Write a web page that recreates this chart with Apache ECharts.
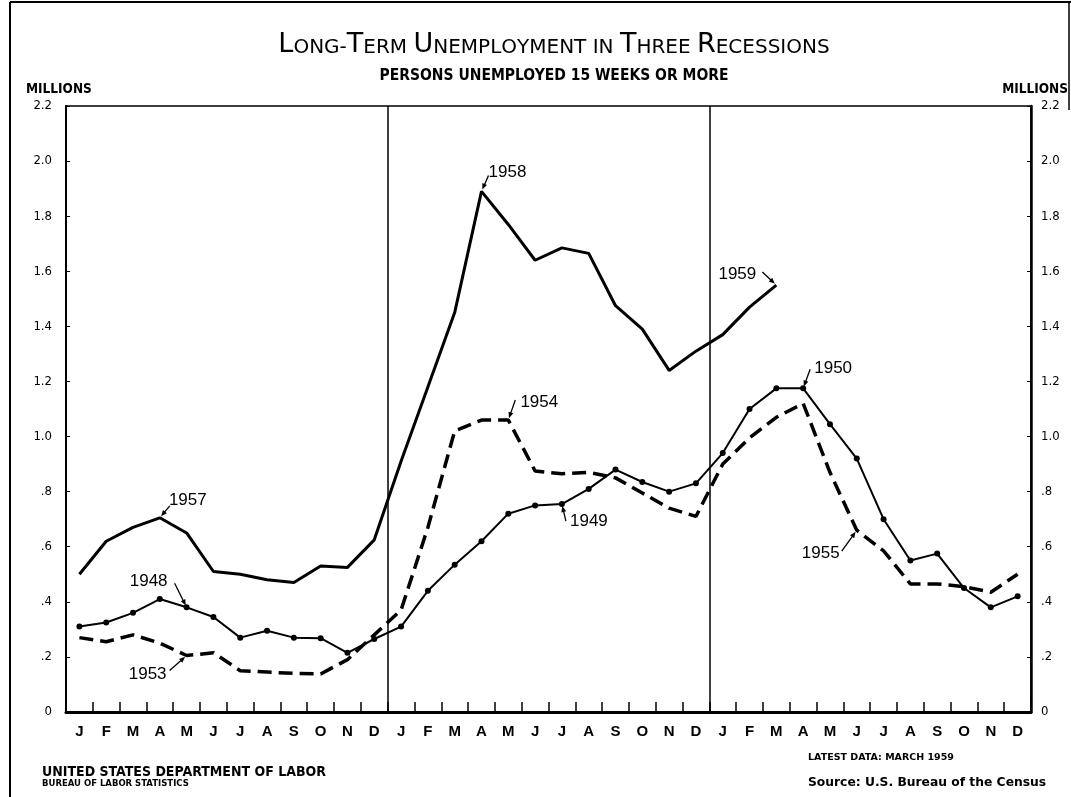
<!DOCTYPE html>
<html>
<head>
<meta charset="utf-8">
<script src="https://cdn.jsdelivr.net/npm/echarts@6/dist/echarts.min.js"></script>
<style>
  html, body { margin: 0; padding: 0; background: #fff; }
  #chart { width: 1071px; height: 797px; }
</style>
</head>
<body>
<div id="chart"></div>
<script>
  // three years shown side by side, one letter per month
  const monthLetters = ['J', 'F', 'M', 'A', 'M', 'J', 'J', 'A', 'S', 'O', 'N', 'D']
  const yearSlots = ['first', 'second', 'third']

  // persons unemployed 15 weeks or more, millions
  const recession1957 = [0.50, 0.62, 0.67, 0.705, 0.65, 0.51, 0.50, 0.48, 0.47, 0.53, 0.525, 0.625,
    0.91, 1.18, 1.45, 1.89, 1.77, 1.64, 1.685, 1.665, 1.475, 1.39, 1.24, 1.31,
    1.37, 1.47, 1.55]
  const recession1948 = [0.31, 0.325, 0.36, 0.41, 0.38, 0.345, 0.27, 0.295, 0.27, 0.268, 0.215, 0.265,
    0.31, 0.44, 0.535, 0.62, 0.72, 0.75, 0.755, 0.81, 0.88, 0.835, 0.80, 0.83,
    0.94, 1.10, 1.175, 1.175, 1.045, 0.92, 0.70, 0.55, 0.575, 0.45, 0.38, 0.42]
  const recession1953 = [0.27, 0.255, 0.28, 0.25, 0.205, 0.215, 0.15, 0.145, 0.14, 0.138, 0.19, 0.28,
    0.37, 0.67, 1.02, 1.06, 1.06, 0.875, 0.865, 0.87, 0.85, 0.795, 0.74, 0.71,
    0.90, 0.995, 1.07, 1.12, 0.87, 0.66, 0.585, 0.465, 0.465, 0.455, 0.435, 0.50]

  // year labels: which series, which month index
  const yearNotes = [
    { text: '1957', data: recession1957, idx: 3 },
    { text: '1948', data: recession1948, idx: 4 },
    { text: '1953', data: recession1953, idx: 4 },
    { text: '1958', data: recession1957, idx: 15 },
    { text: '1954', data: recession1953, idx: 16 },
    { text: '1949', data: recession1948, idx: 18 },
    { text: '1959', data: recession1957, idx: 26 },
    { text: '1950', data: recession1948, idx: 27 },
    { text: '1955', data: recession1953, idx: 29 }
  ]
  // placement of each label: text centre and arrow start, relative to the point
  const notePlacement = {
    '1957': [28, -17, 10, -12],
    '1948': [-38, -26, -12, -24],
    '1953': [-39, 19, -17, 15],
    '1958': [26, -19, 7, -16],
    '1954': [31, -18, 7, -20],
    '1949': [27, 17, 4, 17],
    '1959': [-39, -11, -14, -13],
    '1950': [30, -20, 7, -19],
    '1955': [-36, 23, -15, 21]
  }

  const categories = []
  yearSlots.forEach(y => monthLetters.forEach((m, i) => categories.push(m + '|' + y + i)))

  const NARROW = '"DejaVu Sans Condensed", "Liberation Sans Narrow", Arial, sans-serif'
  const WIDE = '"DejaVu Sans", Arial, sans-serif'
  const fmtMillions = v => {
    const r = Math.round(v * 10) / 10
    if (r === 0) return '0'
    if (r < 1) return '.' + Math.round(r * 10)
    return r.toFixed(1)
  }

  const chart = echarts.init(document.getElementById('chart'))

  const yAxisBase = {
    type: 'value',
    min: 0,
    max: 2.2,
    interval: 0.2,
    splitLine: { show: false },
    axisLine: { show: true, lineStyle: { color: '#000', width: 2 } },
    axisTick: { show: true, inside: true, length: 4, lineStyle: { color: '#000', width: 1 } },
    axisLabel: {
      formatter: fmtMillions,
      color: '#000',
      fontFamily: NARROW,
      fontSize: 13
    }
  }

  // small caps title: capitals big, lower case as small capitals
  const titleText = 'Long-Term Unemployment in Three Recessions'
  const titleRich = titleText.split('').map(c => {
    if (c === ' ') return '{s| }'
    return (c !== c.toLowerCase()) ? '{b|' + c + '}' : '{s|' + c.toUpperCase() + '}'
  }).join('')

  chart.setOption({
    backgroundColor: '#fff',
    animation: false,
    title: {
      text: titleRich,
      subtext: 'PERSONS UNEMPLOYED 15 WEEKS OR MORE',
      left: 549,
      textAlign: 'center',
      top: 26,
      itemGap: 10,
      textStyle: {
        rich: {
          b: { fontFamily: WIDE, fontSize: 27, color: '#000', fontWeight: 'normal' },
          s: { fontFamily: WIDE, fontSize: 20, color: '#000', fontWeight: 'normal', verticalAlign: 'bottom' }
        }
      },
      subtextStyle: {
        fontFamily: NARROW,
        fontSize: 15.5,
        fontWeight: 'bold',
        color: '#000'
      }
    },
    grid: {
      left: 66,
      right: 40,
      top: 106,
      bottom: 85,
      show: true,
      borderColor: '#000',
      borderWidth: 1.5
    },
    xAxis: {
      type: 'category',
      data: categories,
      boundaryGap: true,
      axisLine: { show: true, lineStyle: { color: '#000', width: 3 } },
      axisTick: { show: true, inside: true, length: 10, interval: 0, lineStyle: { color: '#000', width: 1.5 } },
      axisLabel: {
        interval: 0,
        margin: 12,
        formatter: v => v.split('|')[0],
        color: '#000',
        fontFamily: 'Liberation Sans, Arial, sans-serif',
        fontSize: 15,
        fontWeight: 'bold'
      },
      splitLine: {
        show: true,
        interval: (i) => i === 12 || i === 24,
        lineStyle: { color: '#000', width: 1.5 }
      }
    },
    yAxis: [
      Object.assign({}, yAxisBase, { position: 'left', axisLabel: Object.assign({}, yAxisBase.axisLabel, { margin: 14 }) }),
      Object.assign({}, yAxisBase, { position: 'right', axisLine: { show: true, lineStyle: { color: '#000', width: 2.5 } }, axisLabel: Object.assign({}, yAxisBase.axisLabel, { margin: 10 }) })
    ],
    series: [
      {
        name: '1957-59',
        type: 'line',
        data: recession1957,
        symbol: 'none',
        lineStyle: { color: '#000', width: 3 },
        z: 3
      },
      {
        name: '1948-50',
        type: 'line',
        data: recession1948,
        symbol: 'circle',
        symbolSize: 6,
        itemStyle: { color: '#000' },
        lineStyle: { color: '#000', width: 2 },
        z: 2
      },
      {
        name: '1953-55',
        type: 'line',
        data: recession1953,
        symbol: 'none',
        lineStyle: { color: '#000', width: 3.5, type: [14, 7] },
        z: 2
      }
    ]
  })

  // year labels with arrows, placed from the plotted points
  const graphics = []
  yearNotes.forEach(n => {
    const p = chart.convertToPixel({ xAxisIndex: 0, yAxisIndex: 0 }, [n.idx, n.data[n.idx]])
    const [dx, dy, ax, ay] = notePlacement[n.text]
    graphics.push({
      type: 'text',
      x: p[0] + dx,
      y: p[1] + dy,
      style: {
        text: n.text,
        fontFamily: 'Liberation Sans, Arial, sans-serif',
        fontSize: 17,
        fill: '#000',
        align: 'center',
        verticalAlign: 'middle'
      }
    })
    const sx = p[0] + ax, sy = p[1] + ay
    const len = Math.hypot(p[0] - sx, p[1] - sy)
    const ux = (p[0] - sx) / len, uy = (p[1] - sy) / len
    const ex = p[0] - ux * 2, ey = p[1] - uy * 2
    graphics.push({
      type: 'line',
      shape: { x1: sx, y1: sy, x2: ex - ux * 4, y2: ey - uy * 4 },
      style: { stroke: '#000', lineWidth: 1.3 }
    })
    graphics.push({
      type: 'polygon',
      shape: {
        points: [
          [ex, ey],
          [ex - ux * 6 - uy * 2.5, ey - uy * 6 + ux * 2.5],
          [ex - ux * 6 + uy * 2.5, ey - uy * 6 - ux * 2.5]
        ]
      },
      style: { fill: '#000' }
    })
  })

  const plainText = (x, y, text, size, family, align) => ({
    type: 'text',
    x: x,
    y: y,
    style: {
      text: text,
      fontFamily: family,
      fontSize: size,
      fontWeight: 'bold',
      fill: '#000',
      align: align || 'left',
      verticalAlign: 'middle'
    }
  })

  graphics.push(
    plainText(26, 89, 'MILLIONS', 13.5, NARROW),
    plainText(1068, 89, 'MILLIONS', 13.5, NARROW, 'right'),
    plainText(42, 772, 'UNITED STATES DEPARTMENT OF LABOR', 14, NARROW),
    plainText(42, 784, 'BUREAU OF LABOR STATISTICS', 8.5, WIDE),
    plainText(808, 758, 'LATEST DATA: MARCH 1959', 9.5, WIDE),
    plainText(808, 783, 'Source: U.S. Bureau of the Census', 12.3, WIDE),
    { type: 'line', shape: { x1: 10, y1: 2, x2: 10, y2: 797 }, style: { stroke: '#000', lineWidth: 2 } },
    { type: 'line', shape: { x1: 10, y1: 2, x2: 1071, y2: 2 }, style: { stroke: '#000', lineWidth: 2 } },
    { type: 'line', shape: { x1: 1069, y1: 2, x2: 1069, y2: 110 }, style: { stroke: '#000', lineWidth: 1.5 } }
  )

  chart.setOption({ graphic: graphics })
</script>
</body>
</html>
